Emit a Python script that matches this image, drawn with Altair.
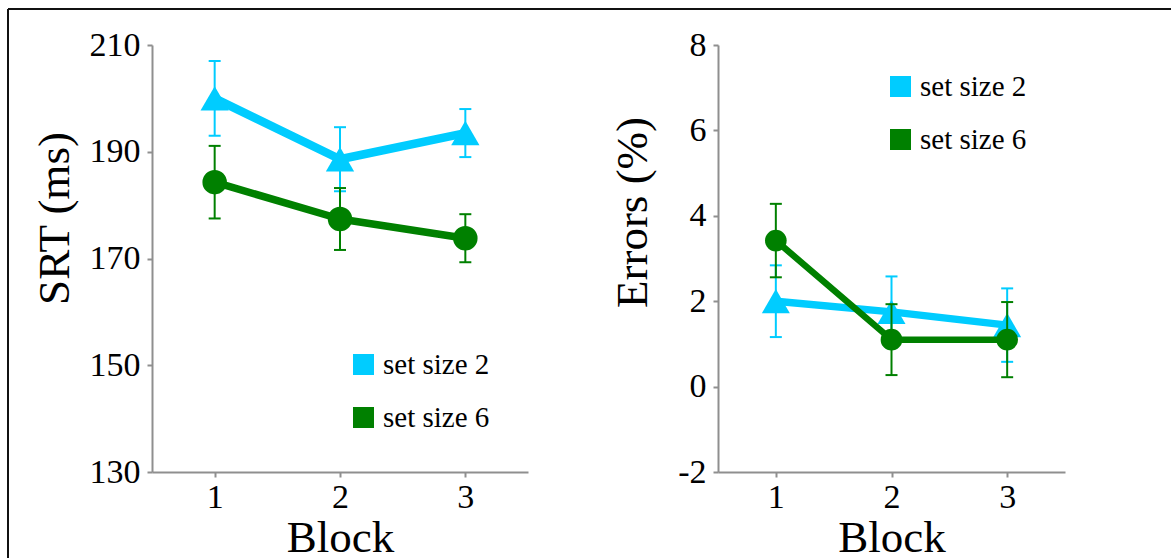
import altair as alt
import pandas as pd

# ---------------- data ----------------
blocks = [1, 2, 3]
series_names = ["set size 2", "set size 6"]
series_colors = ["#00CCFF", "#008000"]
series_shapes = ["triangle-up", "circle"]

srt_ss2 = [200.0, 188.6, 193.5]
srt_ss2_se = [7.0, 6.0, 4.5]
srt_ss6 = [184.3, 177.4, 173.8]
srt_ss6_se = [6.8, 5.8, 4.5]

err_ss2 = [2.0, 1.75, 1.44]
err_ss2_se = [0.84, 0.83, 0.86]
err_ss6 = [3.42, 1.1, 1.1]
err_ss6_se = [0.86, 0.83, 0.88]

srt_ticks = [130, 150, 170, 190, 210]
err_ticks = [-2, 0, 2, 4, 6, 8]


def make_df(m2, s2, m6, s6):
    rows = []
    for name, means, ses in [(series_names[0], m2, s2), (series_names[1], m6, s6)]:
        for b, m, s in zip(blocks, means, ses):
            rows.append({"block": b, "series": name, "value": m, "lo": m - s, "hi": m + s})
    return pd.DataFrame(rows)


df_srt = make_df(srt_ss2, srt_ss2_se, srt_ss6, srt_ss6_se)
df_err = make_df(err_ss2, err_ss2_se, err_ss6, err_ss6_se)

FONT = "Liberation Serif"


def panel(df, ydomain, yticks, ytitle, width, height, title_x, title_y,
          legend_x, legend_y, line_widths, point_sizes, frame=None):
    xs = alt.Scale(domain=[0.5, 3.5], nice=False, zero=False)
    ys = alt.Scale(domain=ydomain, nice=False, zero=False)
    x_axis = alt.Axis(values=blocks, title="Block", labelPadding=3, titleY=79,
                      titleBaseline="alphabetic", labelExpr="datum.value", labelFlush=False)
    y_axis = alt.Axis(values=yticks, title=ytitle, labelPadding=7, titleAngle=270,
                      titleX=title_x, titleY=title_y, titleBaseline="alphabetic",
                      titleAlign="center", labelExpr="datum.value", labelFlush=False)

    def X():
        return alt.X("block:Q", scale=xs, axis=x_axis)

    def Y(field):
        return alt.Y(field, scale=ys, axis=y_axis)

    color_enc = alt.Color(
        "series:N",
        scale=alt.Scale(domain=series_names, range=series_colors),
        legend=alt.Legend(
            title=None, orient="none", legendX=legend_x, legendY=legend_y,
            symbolType="square", symbolSize=441, symbolStrokeWidth=0, symbolOpacity=1,
            labelFont=FONT, labelFontSize=29, labelColor="#000",
            labelOffset=5, rowPadding=23, padding=0,
        ),
    )

    base = alt.Chart(df)
    layers = []
    for i, name in enumerate(series_names):
        c = series_colors[i]
        sub = base.transform_filter(alt.datum.series == name)
        layers.append(sub.mark_rule(color=c, strokeWidth=2).encode(
            x=X(), y=Y("lo:Q"), y2=alt.Y2("hi:Q")))
        layers.append(sub.mark_tick(color=c, orient="horizontal", size=12, thickness=2,
                                    opacity=1).encode(x=X(), y=Y("hi:Q")))
        layers.append(sub.mark_tick(color=c, orient="horizontal", size=12, thickness=2,
                                    opacity=1).encode(x=X(), y=Y("lo:Q")))
        layers.append(sub.mark_line(color=c, strokeWidth=line_widths[i], strokeCap="round",
                                    strokeJoin="round").encode(x=X(), y=Y("value:Q")))
        layers.append(sub.mark_point(filled=True, opacity=1, strokeWidth=0).encode(
            x=X(), y=Y("value:Q"), color=color_enc,
            shape=alt.value(series_shapes[i]), size=alt.value(point_sizes[i])))

    if frame is not None:
        one = alt.Chart(pd.DataFrame({"f": [0]}))
        fx, fy, fx2, fy2 = frame
        layers.append(one.mark_rule(color="#111", strokeWidth=2).encode(
            x=alt.value(fx), y=alt.value(fy), y2=alt.value(fy2)))
        layers.append(one.mark_rule(color="#111", strokeWidth=2).encode(
            x=alt.value(fx), x2=alt.value(fx2), y=alt.value(fy)))

    return alt.layer(*layers).properties(width=width, height=height)


left = panel(df_srt, [130, 210], srt_ticks, "SRT (ms)", 376, 427,
             title_x=-84, title_y=173, legend_x=197, legend_y=305,
             line_widths=[8.5, 7.5], point_sizes=[800, 600],
             frame=(-144, -36, 1019, 513))
right = panel(df_err, [-2, 8], err_ticks, "Errors (%)", 347, 427,
              title_x=-72, title_y=167, legend_x=168, legend_y=27,
              line_widths=[7.5, 6.5], point_sizes=[784, 470])

chart = (
    alt.hconcat(left, right, spacing=190, bounds="flush")
    .resolve_scale(color="independent")
    .resolve_legend(color="independent")
    .properties(padding={"left": 7, "top": 8, "right": 0, "bottom": 0}, background="white")
    .configure_view(strokeWidth=0)
    .configure_axis(
        domainColor="#8f8f8f", domainWidth=2, tickColor="#8f8f8f", tickWidth=2, tickSize=5,
        grid=False, labelFont=FONT, labelFontSize=34, labelColor="#000",
        titleFont=FONT, titleFontSize=45, titleFontWeight="normal", titleColor="#000",
    )
)

chart.save("out.html", embed_options={"renderer": "svg", "actions": False})
